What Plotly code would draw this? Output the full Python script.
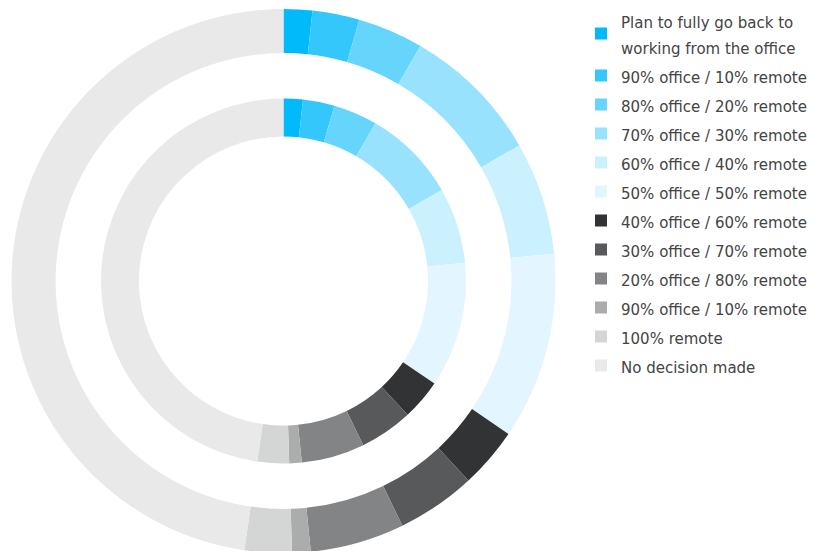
import plotly.graph_objects as go

labels = [
    "Plan to fully go back to<br>working from the office",
    "90% office / 10% remote",
    "80% office / 20% remote",
    "70% office / 30% remote",
    "60% office / 40% remote",
    "50% office / 50% remote",
    "40% office / 60% remote",
    "30% office / 70% remote",
    "20% office / 80% remote",
    "90% office / 10% remote ",
    "100% remote",
    "No decision made",
]
colors = ["#00BAF9", "#33C7FB", "#66D5FC", "#99E2FD", "#CCF1FE", "#E3F6FF",
          "#323335", "#58595B", "#838485", "#ABACAC", "#D4D5D5", "#E9E9E9"]

outer_values = [1.7, 2.8, 3.9, 8.3, 6.7, 11.1, 3.6, 4.7, 5.6, 1.1, 2.8, 47.7]
inner_values = [1.7, 2.8, 3.9, 8.3, 6.7, 11.1, 3.6, 4.7, 5.6, 1.1, 2.8, 47.7]

W, H = 815, 551
FONT = "DejaVu Sans"
legend_labels = ["<span style='font-size:15px'>%s</span>" % l for l in labels]

fig = go.Figure()
fig.add_trace(go.Pie(
    labels=legend_labels, values=outer_values, sort=False, direction="clockwise",
    rotation=0, hole=0.838, textinfo="none", hoverinfo="label+value",
    marker=dict(colors=colors, line=dict(width=0)),
    domain=dict(x=[0.004294, 0.671779], y=[0.010889, 0.998185]),
))
fig.add_trace(go.Pie(
    labels=legend_labels, values=inner_values, sort=False, direction="clockwise",
    rotation=0, hole=0.792, textinfo="none", hoverinfo="label+value",
    marker=dict(colors=colors, line=dict(width=0)),
    domain=dict(x=[0.114110, 0.561963], y=[0.173321, 0.835753]),
))
fig.update_layout(
    width=W, height=H,
    margin=dict(l=0, r=0, t=0, b=0, autoexpand=False),
    paper_bgcolor="white", plot_bgcolor="white",
    font=dict(family=FONT, color="#444444"),
    legend=dict(x=0.7031, y=1.0127, xanchor="left", yanchor="top",
                maxheight=1000,
                font=dict(size=20, family=FONT, color="#444444"),
                bgcolor="rgba(0,0,0,0)", traceorder="normal"),
    showlegend=True,
)
fig.write_html("out.html")
